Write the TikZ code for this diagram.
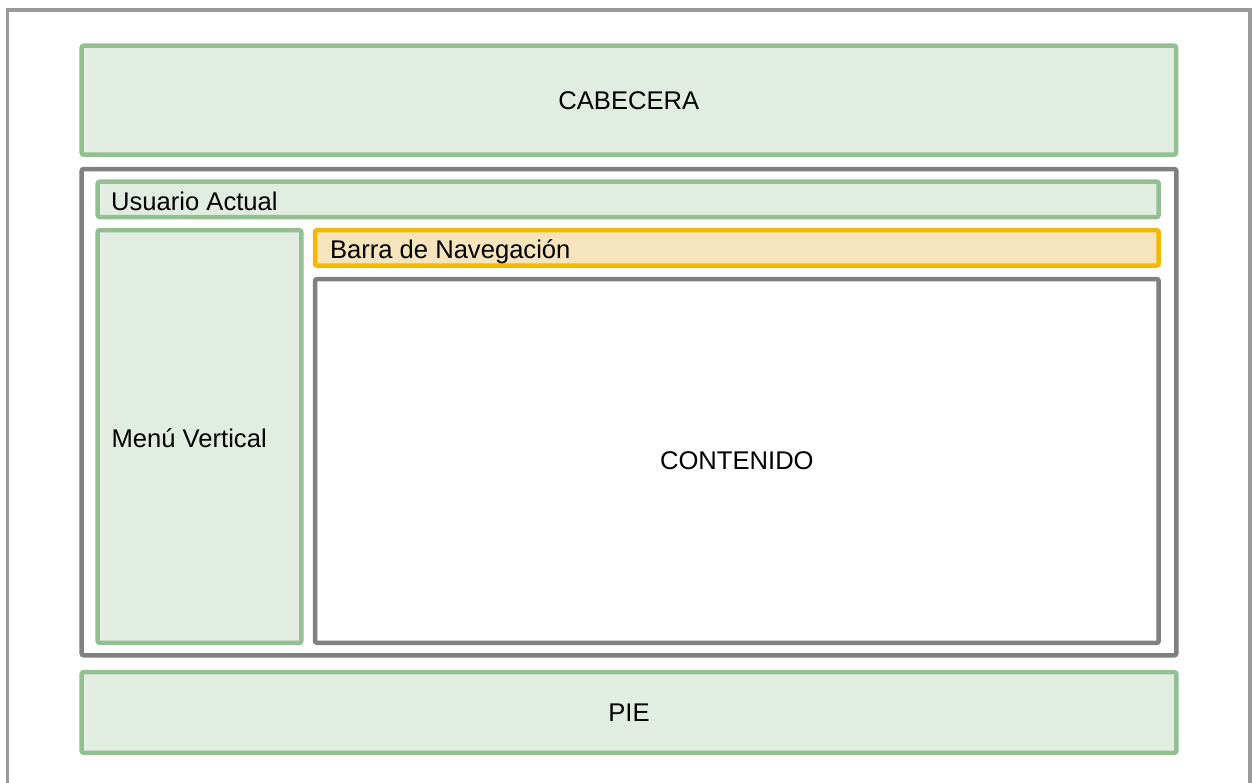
\documentclass[tikz,border=0pt]{standalone}
\usepackage{fontspec}
\setmainfont{Liberation Sans}

\definecolor{bordeverde}{HTML}{93BF93}
\definecolor{fondoverde}{HTML}{E2EDE2}
\definecolor{bordenaranja}{HTML}{F5B800}
\definecolor{fondonaranja}{HTML}{F5E4BC}
\definecolor{bordegris}{HTML}{808080}
\definecolor{marco}{HTML}{9A9A9A}

\begin{document}
\begin{tikzpicture}[x=1pt, y=-1pt,
		zona/.style={draw, line width=4.5pt, rounded corners=2pt, inner sep=0pt, font=\fontsize{25.6}{30}\selectfont},
		verde/.style={zona, draw=bordeverde, fill=fondoverde},
		naranja/.style={zona, draw=bordenaranja, fill=fondonaranja},
		gris/.style={zona, draw=bordegris},
		rotulo/.style={inner sep=0pt, anchor=base west, font=\fontsize{25.6}{30}\selectfont}]
			\useasboundingbox (0, 0) rectangle (1252, 782);

			% marco de la pagina, abierto por abajo
			\draw [marco, line width=3.5pt] (7.5, 790) -- (7.5, 10) -- (1250, 10) -- (1250, 790);

			\node [verde, minimum width=1094.3pt, minimum height=109pt] (cabecera) at (628.85, 100.2) {CABECERA};
			\node [gris, minimum width=1094.6pt, minimum height=486.3pt] (cuerpo) at (629, 412.15) {};
			\node [verde, minimum width=1061pt, minimum height=35.3pt] (usuario) at (628.2, 199.35) {};
			\node [verde, minimum width=203.6pt, minimum height=412.6pt] (menu) at (199.5, 436.5) {};
			\node [naranja, minimum width=843.7pt, minimum height=35.3pt] (barra) at (736.85, 247.85) {};
			\node [gris, fill=white, minimum width=843.7pt, minimum height=363.8pt] (contenido) at (736.85, 460.9) {CONTENIDO};
			\node [verde, minimum width=1094.6pt, minimum height=80.6pt] (pie) at (629, 712.5) {PIE};

			\node [rotulo] (usuariotxt) at (111, 210.7) {Usuario Actual};
			\node [rotulo] (menutxt) at (111.4, 447.3) {Menú Vertical};
			\node [rotulo] (barratxt) at (329.8, 258.3) {Barra de Navegación};
		\end{tikzpicture}
\end{document}
